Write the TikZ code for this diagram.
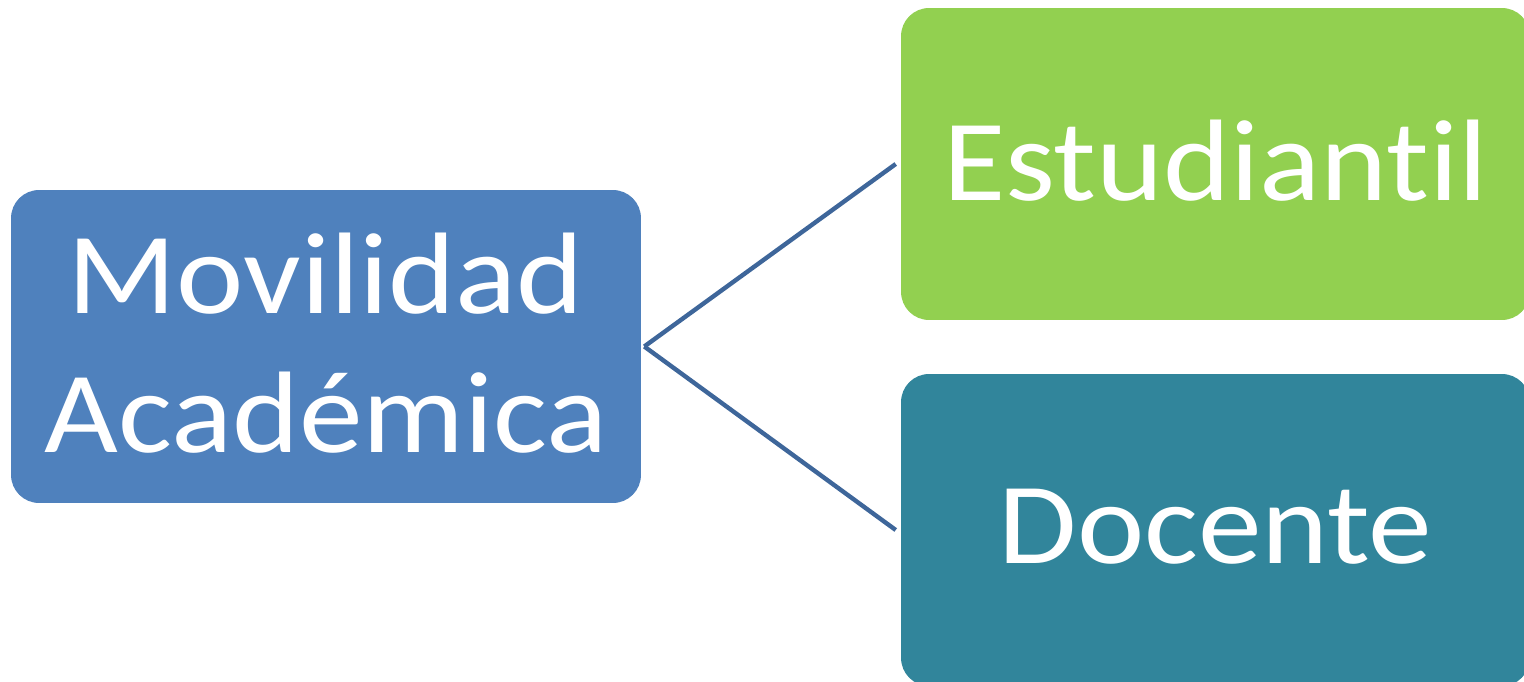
\documentclass[tikz,border=0pt]{standalone}
\usepackage{fontspec}
\setmainfont[Ligatures=NoCommon, FakeStretch=1.1]{Carlito}
\definecolor{azul}{RGB}{79,129,189}
\definecolor{verde}{RGB}{146,208,80}
\definecolor{teal2}{RGB}{49,133,155}
\definecolor{linea}{RGB}{62,102,154}
\tikzset{
	caja/.style={rounded corners=0.56cm, text=white, align=center, inner sep=0pt,
		text depth=0.16cm, font=\fontsize{66}{79}\selectfont},
	rama/.style={draw=linea, line width=2.5pt}
}
\begin{document}
\begin{tikzpicture}[x=0.02cm, y=-0.02cm, line join=round]
	\useasboundingbox (0,0) rectangle (1524,682);
	\clip (0,0) rectangle (1524,682);
	\node[caja, fill=azul, minimum width=12.6cm, minimum height=6.26cm] (mov) at (326,346.5) {Movilidad\\Académica};
	\node[caja, fill=verde, minimum width=12.58cm, minimum height=6.24cm] (est) at (1215.5,164) {Estudiantil};
	\node[caja, fill=teal2, minimum width=12.58cm, minimum height=6.24cm] (doc) at (1215.5,530) {Docente};
	\coordinate (vert) at ([xshift=0.06cm]mov.east);
	\foreach \hoja in {est,doc}
		\draw[rama] (vert) -- ([xshift=-0.1cm]\hoja.west);
\end{tikzpicture}
\end{document}
